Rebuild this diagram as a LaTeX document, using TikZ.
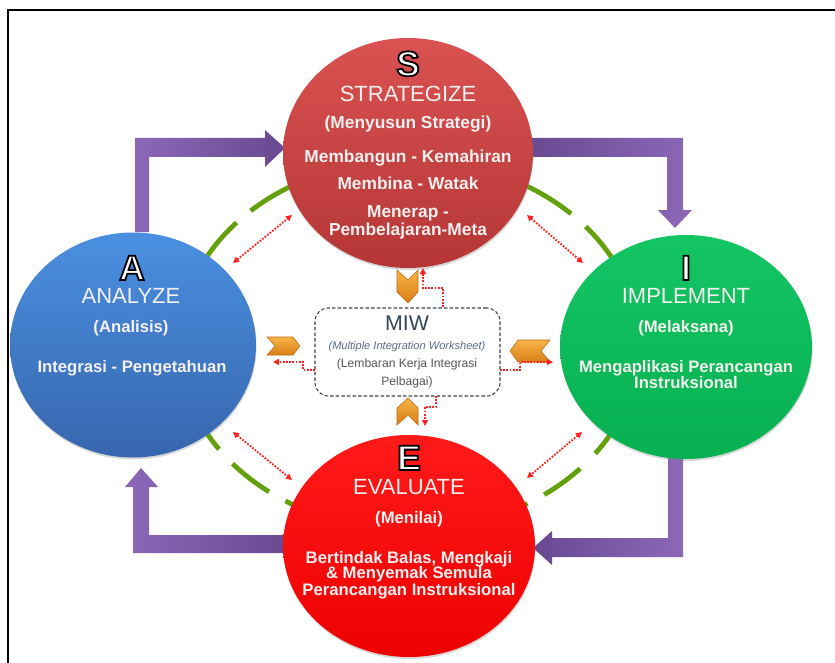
\documentclass[tikz,border=0pt]{standalone}
\usepackage{fontspec}
\setmainfont{Liberation Sans}
\newfontface\bigoutlfont[FakeBold=5]{Liberation Sans Bold}
\usetikzlibrary{shapes.geometric,arrows.meta,shadows}
\definecolor{sTop}{HTML}{DA5252}
\definecolor{sBot}{HTML}{B53636}
\definecolor{aTop}{HTML}{4A90E0}
\definecolor{aBot}{HTML}{3766AE}
\definecolor{iTop}{HTML}{14C564}
\definecolor{iBot}{HTML}{07B050}
\definecolor{eTop}{HTML}{FF1A1A}
\definecolor{eBot}{HTML}{EE0000}
\definecolor{purpL}{HTML}{8C68B8}
\definecolor{purpD}{HTML}{68498F}
\definecolor{arcG}{HTML}{63A00C}
\definecolor{orL}{HTML}{F7B547}
\definecolor{orD}{HTML}{D97E16}
\definecolor{orE}{HTML}{B86A12}
\definecolor{dotR}{HTML}{FF2222}
\definecolor{txtW}{HTML}{F4F0F0}
\definecolor{miwC}{HTML}{34465A}
\definecolor{miwI}{HTML}{5A6A88}
\definecolor{miwG}{HTML}{555555}
\newcommand\outl[1]{{\color{white}\special{pdf:literal direct 0 0 0 RG}\bigoutlfont\fontsize{26.5}{30}\selectfont #1}}
\begin{document}
\begin{tikzpicture}[x=0.75pt,y=-0.75pt,
  circ/.style={ellipse, inner sep=0pt, drop shadow={shadow xshift=0.4pt, shadow yshift=-1.5pt, opacity=0.3}},
  garc/.style={draw=arcG, line width=3.6pt},
  dotarr/.style={draw=dotR, line width=1.4pt, dash pattern=on 1.3pt off 1.1pt, -{Triangle[length=4.5pt,width=4.5pt]}},
  dotboth/.style={dotarr, {Triangle[length=4.5pt,width=4.5pt]}-{Triangle[length=4.5pt,width=4.5pt]}},
  chev/.style={top color=orL, bottom color=orD, draw=orE, line width=0.4pt},
  tl/.style={anchor=base, inner sep=0pt, text=txtW, font=\fontsize{16.5}{18}\selectfont},
  bdS/.style={anchor=base, inner sep=0pt, text=txtW, font=\bfseries\fontsize{13}{14}\selectfont},
  bdA/.style={anchor=base, inner sep=0pt, text=txtW, font=\bfseries\fontsize{12.5}{14}\selectfont},
  big/.style={anchor=base, inner sep=0pt},
  miwt/.style={anchor=base, inner sep=0pt}
]
\useasboundingbox (0,0) rectangle (835,663);
\fill[white] (0,0) rectangle (835,663);
\draw[line width=1.6pt] (8,663) -- (8,10) -- (835,10);

% purple block arrows
\shade[left color=purpL, right color=purpD] (135,232) -- (135,138) -- (265,138) -- (265,130) -- (285,148) -- (265,167) -- (265,157) -- (149,157) -- (149,232) -- cycle;
\shade[left color=purpD, right color=purpL] (525,138) -- (683,138) -- (683,210) -- (692,210) -- (675,228) -- (658,210) -- (667,210) -- (667,157) -- (525,157) -- cycle;
\shade[left color=purpD, right color=purpL] (668,452) -- (683,452) -- (683,557) -- (552,557) -- (552,565) -- (533,548) -- (552,531) -- (552,538) -- (668,538) -- cycle;
\shade[left color=purpL, right color=purpD] (292,535) -- (149,535) -- (149,487) -- (158,487) -- (141,468) -- (125,487) -- (133,487) -- (133,553) -- (292,553) -- cycle;

% green dashed ring
\foreach \a/\b in {200/221.4, 226.5/245, 295/314.8, 320.2/340, 155/145.7, 140.1/127.5, 122.5/110, 25/35.9, 41.9/54, 59/70}
  \draw[garc] (409,345) ++(\a:230 and 185) arc[start angle=\a, end angle=\b, x radius=230, y radius=185];

% circles
\node[circ, minimum width=187.5pt, minimum height=172.5pt, top color=sTop, bottom color=sBot] (S) at (408,153) {};
\node[circ, minimum width=184.5pt, minimum height=168.75pt, top color=aTop, bottom color=aBot] (A) at (133,345) {};
\node[circ, minimum width=189pt, minimum height=168pt, top color=iTop, bottom color=iBot] (I) at (686,347) {};
\node[circ, minimum width=189pt, minimum height=166.5pt, top color=eTop, bottom color=eBot] (E) at (409,546) {};

% red dotted double arrows
\coordinate (ul1) at (233,263); \coordinate (ul2) at (292,215);
\coordinate (ur1) at (527,215); \coordinate (ur2) at (583,263);
\coordinate (ll1) at (233,432); \coordinate (ll2) at (292,480);
\coordinate (lr1) at (582,432); \coordinate (lr2) at (527,478);
\draw[dotboth] (ul1) -- (ul2);
\draw[dotboth] (ur1) -- (ur2);
\draw[dotboth] (ll1) -- (ll2);
\draw[dotboth] (lr1) -- (lr2);

% MIW box
\node[draw=black!75, dash pattern=on 2.6pt off 1.6pt, line width=0.8pt, rounded corners=10pt, fill=white, minimum width=138.75pt, minimum height=66pt, inner sep=0pt] (miw) at (407.5,352) {};
\node[miwt, text=miwC, font=\fontsize{16}{18}\selectfont] (miw1) at (407,330) {MIW};
\node[miwt, text=miwI, font=\itshape\fontsize{8.3}{10}\selectfont] (miw2) at (407,349) {(Multiple Integration Worksheet)};
\node[miwt, text=miwG, font=\fontsize{9.1}{11}\selectfont] (miw3) at (407,367) {(Lembaran Kerja Integrasi};
\node[miwt, text=miwG, font=\fontsize{9.1}{11}\selectfont] (miw4) at (407,385) {Pelbagai)};

% orange chevrons
\shade[chev] (397,270) -- (408,280) -- (418,270) -- (418,292) -- (408,303) -- (397,292) -- cycle;
\shade[chev] (267,337) -- (293,337) -- (300,346) -- (293,355) -- (267,355) -- (275,346) -- cycle;
\shade[chev] (550,340) -- (518,340) -- (510,351) -- (518,362) -- (550,362) -- (541,351) -- cycle;
\shade[chev] (397,425) -- (408,415) -- (418,425) -- (418,408) -- (408,398) -- (397,408) -- cycle;

% red dotted elbow arrows
\coordinate (t0) at (443,307); \coordinate (t1) at (443,288); \coordinate (t2) at (423,288); \coordinate (t3) at (423,268);
\draw[dotarr] (t0) -- (t1) -- (t2) -- (t3);
\coordinate (l0) at (315,370); \coordinate (l1) at (303,370); \coordinate (l2) at (303,362); \coordinate (l3) at (273,362);
\draw[dotarr] (l0) -- (l1) -- (l2) -- (l3);
\coordinate (r0) at (500,370); \coordinate (r1) at (520,370); \coordinate (r2) at (520,362); \coordinate (r3) at (553,362);
\draw[dotarr] (r0) -- (r1) -- (r2) -- (r3);
\coordinate (b0) at (436,396); \coordinate (b1) at (436,407); \coordinate (b2) at (425,407); \coordinate (b3) at (425,426);
\draw[dotarr] (b0) -- (b1) -- (b2) -- (b3);

% S texts
\node[big] (sL) at (408,76) {\outl{S}};
\node[tl] (s1) at (408,102) {STRATEGIZE};
\node[bdS] (s2) at (408,129) {(Menyusun Strategi)};
\node[bdS] (s3) at (408,163) {Membangun - Kemahiran};
\node[bdS] (s4) at (408,190) {Membina - Watak};
\node[bdS] (s5) at (408,218) {Menerap -};
\node[bdS] (s6) at (408,235) {Pembelajaran-Meta};

% A texts
\node[big] (aL) at (132,280) {\outl{A}};
\node[tl] (a1) at (131,303) {ANALYZE};
\node[bdA] (a2) at (131,332) {(Analisis)};
\node[bdA] (a3) at (132,372) {Integrasi - Pengetahuan};

% I texts
\node[big] (iL) at (686,280) {\outl{I}};
\node[tl] (i1) at (686,303) {IMPLEMENT};
\node[bdA] (i2) at (686,332) {(Melaksana)};
\node[bdA] (i3) at (686,372) {Mengaplikasi Perancangan};
\node[bdA] (i4) at (686,388) {Instruksional};

% E texts
\node[big] (eL) at (409,470) {\outl{E}};
\node[tl] (e1) at (409,494) {EVALUATE};
\node[bdA] (e2) at (409,523) {(Menilai)};
\node[bdA] (e3) at (409,563) {Bertindak Balas, Mengkaji};
\node[bdA] (e4) at (409,578) {\& Menyemak Semula};
\node[bdA] (e5) at (409,595) {Perancangan Instruksional};
\end{tikzpicture}
\end{document}
